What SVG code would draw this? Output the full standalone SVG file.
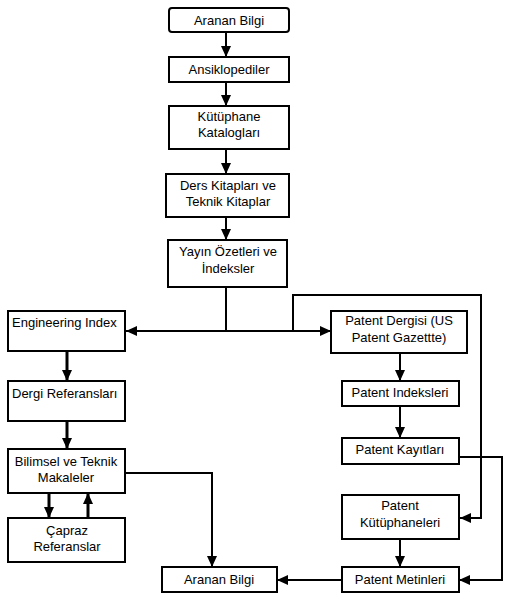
<svg xmlns="http://www.w3.org/2000/svg" width="514" height="602" viewBox="0 0 514 602">
<defs>
<style>
.box{fill:#fff;stroke:#000;stroke-width:2}
.t{font-family:"Liberation Sans",Arial,sans-serif;font-size:13px;fill:#000;text-anchor:middle}
.tl{text-anchor:start}
.c{fill:none;stroke:#000;stroke-width:2}
.ct{fill:none;stroke:#000;stroke-width:3}
</style>
<marker id="ah" markerUnits="userSpaceOnUse" markerWidth="12" markerHeight="12" viewBox="0 0 12 12" refX="11" refY="6" orient="auto">
<path d="M0,1 L11,6 L0,11 Z" fill="#000"/>
</marker>
</defs>
<rect width="514" height="602" fill="#fff"/>
<g id="connectors">
<path class="c" d="M226,32 V57" marker-end="url(#ah)"/>
<path class="c" d="M226,82 V106" marker-end="url(#ah)"/>
<path class="c" d="M226,149 V174" marker-end="url(#ah)"/>
<path class="c" d="M226,217 V240" marker-end="url(#ah)"/>
<path class="c" d="M226,287 V331"/>
<path class="c" d="M226,331 H126" marker-end="url(#ah)"/>
<path class="c" d="M226,331 H331" marker-end="url(#ah)"/>
<path class="c" d="M293,331 V295 H481 V518 H460" marker-end="url(#ah)"/>
<path class="ct" d="M67,351 V381" marker-end="url(#ah)"/>
<path class="ct" d="M67,421 V449" marker-end="url(#ah)"/>
<path class="ct" d="M49,493 V518" marker-end="url(#ah)"/>
<path class="ct" d="M88,518 V493" marker-end="url(#ah)"/>
<path class="c" d="M125,473 H212 V567" marker-end="url(#ah)"/>
<path class="c" d="M400,353 V381" marker-end="url(#ah)"/>
<path class="c" d="M400,406 V438" marker-end="url(#ah)"/>
<path class="c" d="M459,457 H502 V580 H459" marker-end="url(#ah)"/>
<path class="c" d="M400,539 V567" marker-end="url(#ah)"/>
<path class="c" d="M342,580 H277" marker-end="url(#ah)"/>
</g>
<g id="n1"><rect class="box" x="169" y="8" width="120" height="24" rx="3"/><text class="t" x="229" y="25">Aranan Bilgi</text></g>
<g id="n2"><rect class="box" x="169" y="57" width="120" height="25"/><text class="t" x="229" y="74">Ansiklopediler</text></g>
<g id="n3"><rect class="box" x="169" y="106" width="120" height="43"/><text class="t" x="229" y="121">Kütüphane</text><text class="t" x="229" y="137">Katalogları</text></g>
<g id="n4"><rect class="box" x="166" y="174" width="123" height="43"/><text class="t" x="228" y="190">Ders Kitapları ve</text><text class="t" x="228" y="206">Teknik Kitaplar</text></g>
<g id="n5"><rect class="box" x="168" y="240" width="119" height="47"/><text class="t" x="228" y="256">Yayın Özetleri ve</text><text class="t" x="228" y="273">İndeksler</text></g>
<g id="n6"><rect class="box" x="8" y="311" width="117" height="40"/><text class="t tl" x="12" y="327">Engineering Index</text></g>
<g id="n7"><rect class="box" x="8" y="381" width="117" height="40"/><text class="t tl" x="12" y="398">Dergi Referansları</text></g>
<g id="n8"><rect class="box" x="8" y="449" width="117" height="44"/><text class="t" x="66" y="466">Bilimsel ve Teknik</text><text class="t" x="66" y="482">Makaleler</text></g>
<g id="n9"><rect class="box" x="8" y="518" width="117" height="44"/><text class="t" x="67" y="535">Çapraz</text><text class="t" x="67" y="551">Referanslar</text></g>
<g id="n10"><rect class="box" x="162" y="567" width="115" height="25"/><text class="t" x="219" y="584">Aranan Bilgi</text></g>
<g id="n11"><rect class="box" x="331" y="311" width="136" height="42"/><text class="t" x="399" y="325">Patent Dergisi (US</text><text class="t" x="399" y="342">Patent Gazettte)</text></g>
<g id="n12"><rect class="box" x="342" y="381" width="117" height="25"/><text class="t" x="400" y="397">Patent Indeksleri</text></g>
<g id="n13"><rect class="box" x="342" y="438" width="117" height="26"/><text class="t" x="400" y="454">Patent Kayıtları</text></g>
<g id="n14"><rect class="box" x="342" y="495" width="117" height="44"/><text class="t" x="400" y="510">Patent</text><text class="t" x="400" y="527">Kütüphaneleri</text></g>
<g id="n15"><rect class="box" x="342" y="567" width="117" height="25"/><text class="t" x="400" y="584">Patent Metinleri</text></g>
</svg>
